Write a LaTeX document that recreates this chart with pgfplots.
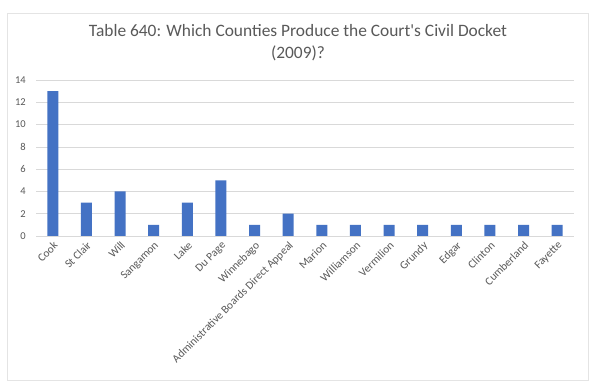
\documentclass[border=0pt]{standalone}
\usepackage{pgfplots}
\pgfplotsset{compat=1.18}
\usepackage{fontspec}
\setmainfont{Carlito}
\definecolor{barblue}{HTML}{4472C4}
\definecolor{txtgray}{HTML}{595959}
\definecolor{gridgray}{HTML}{D9D9D9}
\begin{document}
\begin{tikzpicture}
\fill[white] (0pt,0pt) rectangle (600pt,387pt);
\draw[gridgray!70, line width=0.8pt] (7pt,7pt) rectangle (588pt,374pt);
\node[text=txtgray, font=\fontsize{17.4}{22}\selectfont, align=center] at (298pt,344pt) {Table 640: Which Counties Produce the Court\textquotesingle s Civil Docket\\(2009)?};
\begin{axis}[
  at={(36pt,151pt)}, anchor=south west,
  scale only axis, width=538pt, height=156pt,
  ymin=0, ymax=14, ytick={0,2,...,14},
  xmin=-0.5, xmax=15.5,
  xtick={0,...,15},
  xticklabels={Cook,St Clair,Will,Sangamon,Lake,Du Page,Winnebago,Administrative Boards Direct Appeal,Marion,Williamson,Vermilion,Grundy,Edgar,Clinton,Cumberland,Fayette},
  xticklabel style={rotate=45, anchor=north east, inner sep=1pt, font=\fontsize{11.3}{12}\selectfont, text=txtgray},
  yticklabel style={font=\fontsize{10.5}{12}\selectfont, text=txtgray, inner sep=1pt},
  /pgf/number format/assume math mode=true,
  ymajorgrids, grid style={gridgray, line width=0.6pt},
  axis x line*=bottom, axis y line*=left,
  x axis line style={draw=gridgray, line width=0.6pt, -},
  y axis line style={draw=none},
  major tick length=0pt,
  ytick style={draw=none}, xtick style={draw=none},
  yticklabel shift=9pt,
  xticklabel shift=3pt,
  clip=false,
]
\addplot[ybar, bar width=11pt, fill=barblue, draw=none] coordinates {
(0,13) (1,3) (2,4) (3,1) (4,3) (5,5) (6,1) (7,2) (8,1) (9,1) (10,1) (11,1) (12,1) (13,1) (14,1) (15,1)};
\end{axis}
\end{tikzpicture}
\end{document}
